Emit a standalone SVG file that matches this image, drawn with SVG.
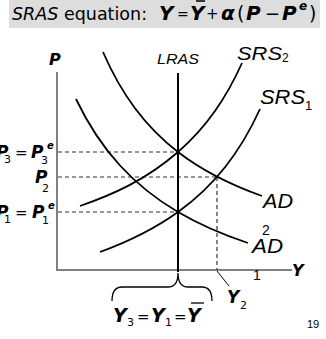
<svg xmlns="http://www.w3.org/2000/svg" width="326" height="339" viewBox="0 0 326 339">
<style>
.m{font-family:"DejaVu Sans",Verdana,sans-serif;font-weight:bold;font-style:italic;fill:#000}
.r{font-family:"DejaVu Sans",Verdana,sans-serif;fill:#000}
.a{font-family:"Liberation Sans",Arial,sans-serif;font-style:italic;fill:#000}
.s{font-family:"Liberation Sans",Arial,sans-serif;fill:#000}
.curve{fill:none;stroke:#000;stroke-width:1.8}
.dash{fill:none;stroke:#333;stroke-width:1.2;stroke-dasharray:4 3}
.axis{fill:none;stroke:#808080;stroke-width:2}
</style>
<rect x="9" y="0" width="311" height="28" fill="#dddddd"/>
<g id="header">
<text x="12" y="20" class="r" font-size="17.5"><tspan font-style="italic">SRAS</tspan> equation:</text>
<text x="159" y="20" class="m" font-size="20">Y</text>
<text x="177" y="19" class="r" font-size="14">=</text>
<text x="190" y="20" class="m" font-size="20">Y</text>
<line x1="196" y1="1" x2="205" y2="1" stroke="#000" stroke-width="1.5"/>
<text x="206" y="19" class="r" font-size="15">+</text>
<text x="221" y="20" class="m" font-size="20">α</text>
<text x="237" y="20" class="r" font-size="19">(</text>
<text x="246" y="20" class="m" font-size="20">P</text>
<text x="265" y="20" class="r" font-size="18">−</text>
<text x="282" y="20" class="m" font-size="20">P</text>
<text x="299" y="10" class="m" font-size="12">e</text>
<text x="309" y="20" class="r" font-size="19">)</text>
</g>
<g id="axes">
<line class="axis" x1="57" y1="72" x2="57" y2="271"/>
<line class="axis" x1="56" y1="270" x2="292" y2="270"/>
<text x="49" y="65" class="m" font-size="16">P</text>
<text x="292" y="276" class="m" font-size="16">Y</text>
</g>
<g id="connectors">
<line class="dash" x1="58" y1="152" x2="178" y2="152"/>
<line class="dash" x1="58" y1="177" x2="217" y2="177"/>
<line class="dash" x1="58" y1="212" x2="178" y2="212"/>
<line class="dash" x1="217" y1="177" x2="217" y2="270"/>
<line x1="217" y1="271" x2="229" y2="286" stroke="#000" stroke-width="1"/>
<path d="M112,301 Q112,287 122,287 L168,287 Q178,287 178,273 Q178,287 188,287 L202,287 Q212,287 212,301" fill="none" stroke="#000" stroke-width="1.3"/>
</g>
<g id="LRAS">
<line x1="178" y1="73" x2="178" y2="272" stroke="#000" stroke-width="2"/>
<text x="157" y="64" class="a" font-size="15" textLength="42" lengthAdjust="spacingAndGlyphs">LRAS</text>
</g>
<g id="AD2">
<path class="curve" d="M103,52 C113.67,76.6 124.33,93.9 135,108.2 C149.33,127.4 163.67,140.9 178,152 C206,173.6 234,186 262,196"/>
<text x="263" y="208" class="a" font-size="21" textLength="30" lengthAdjust="spacingAndGlyphs">AD</text>
<text x="262" y="235" class="s" font-size="14">2</text>
</g>
<g id="AD1">
<path class="curve" d="M76,99 C90.67,129.7 105.33,149.5 120,165.5 C139.33,186.6 158.67,200.7 178,212 C201.33,225.7 224.67,235.2 248,243"/>
<text x="252" y="253" class="a" font-size="21" textLength="31" lengthAdjust="spacingAndGlyphs">AD</text>
<text x="253" y="280" class="s" font-size="14">1</text>
</g>
<g id="SRS1">
<path class="curve" d="M100,252 C126,242.5 152,230.7 178,212 C193.67,200.7 209.33,187 225,167.2 C236.67,152.5 248.33,134.5 260,109"/>
<text x="260" y="104" class="a" font-size="21" textLength="45" lengthAdjust="spacingAndGlyphs">SRS</text>
<text x="305" y="110" class="s" font-size="13">1</text>
</g>
<g id="SRS2">
<path class="curve" d="M80,206 C112.67,194.6 145.33,180.4 178,152 C190.33,141.3 202.67,128.5 215,111 C224,98.3 233,83 242,63"/>
<text x="237" y="60" class="a" font-size="19" textLength="45" lengthAdjust="spacingAndGlyphs">SRS</text>
<text x="282" y="62" class="s" font-size="12">2</text>
</g>
<g id="price-labels">
<text x="-4" y="158" class="m" font-size="17">P</text>
<text x="4" y="163" class="r" font-size="11">3</text>
<text x="15" y="158" class="r" font-size="15">=</text>
<text x="31" y="158" class="m" font-size="17">P</text>
<text x="41" y="164" class="r" font-size="11">3</text>
<text x="47" y="149" class="m" font-size="10">e</text>
<text x="35" y="183" class="m" font-size="17">P</text>
<text x="42" y="192" class="r" font-size="11">2</text>
<text x="-4" y="218" class="m" font-size="17">P</text>
<text x="4" y="223" class="r" font-size="11">1</text>
<text x="15" y="218" class="r" font-size="15">=</text>
<text x="32" y="218" class="m" font-size="17">P</text>
<text x="42" y="224" class="r" font-size="11">1</text>
<text x="48" y="209" class="m" font-size="10">e</text>
</g>
<g id="output-labels">
<text x="113" y="322" class="m" font-size="19">Y</text>
<text x="127" y="326" class="r" font-size="11">3</text>
<text x="137" y="322" class="r" font-size="15">=</text>
<text x="151" y="322" class="m" font-size="19">Y</text>
<text x="165" y="326" class="r" font-size="11">1</text>
<text x="174" y="322" class="r" font-size="15">=</text>
<text x="187" y="322" class="m" font-size="19">Y</text>
<line x1="191" y1="303" x2="204" y2="303" stroke="#000" stroke-width="1.3"/>
<text x="227" y="303" class="m" font-size="17">Y</text>
<text x="240" y="309" class="r" font-size="11">2</text>
</g>
<text x="307" y="328" class="s" font-size="11">19</text>
</svg>
